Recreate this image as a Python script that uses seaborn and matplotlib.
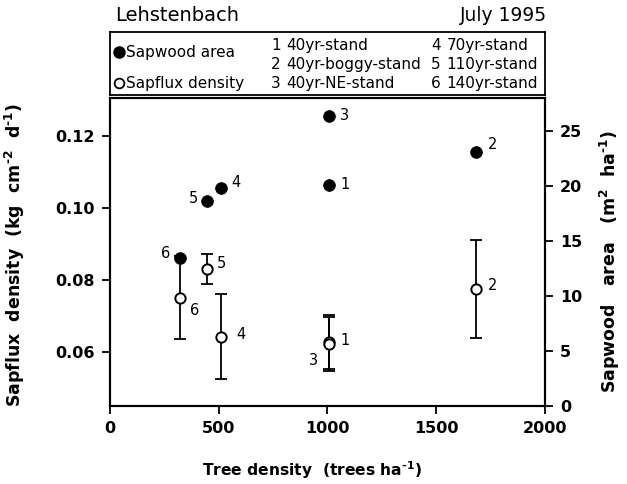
import numpy as np
import pandas as pd
import matplotlib
matplotlib.use("Agg")
import matplotlib.pyplot as plt
import seaborn as sns

# Stand data (Lehstenbach, July 1995)
stand_ids = ["1", "2", "3", "4", "5", "6"]
stand_names = ["40yr-stand", "40yr-boggy-stand", "40yr-NE-stand",
               "70yr-stand", "110yr-stand", "140yr-stand"]
tree_density = [1008, 1685, 1005, 509, 447, 323]
sapwood_area = [20.1, 23.1, 26.4, 19.8, 18.6, 13.5]
sapflux = [0.0628, 0.0776, 0.0622, 0.0642, 0.0831, 0.0751]
sapflux_err = [0.0076, 0.0136, 0.0074, 0.0118, 0.0042, 0.0115]

sns.set_theme(style="ticks")
plt.rcParams["font.family"] = ["DejaVu Sans"]
plt.rcParams["mathtext.fontset"] = "custom"
plt.rcParams["mathtext.rm"] = "DejaVu Sans:bold"
plt.rcParams["mathtext.bf"] = "DejaVu Sans:bold"
for key in ["text.color", "axes.labelcolor", "xtick.color", "ytick.color", "axes.edgecolor"]:
    plt.rcParams[key] = "black"

df = pd.DataFrame({"stand": stand_ids, "density": tree_density,
                   "sapwood": sapwood_area, "sapflux": sapflux, "err": sapflux_err})

fig = plt.figure(figsize=(6.27, 4.84), dpi=100)
ax = fig.add_axes([0.1754, 0.161, 0.6936, 0.6365])
ax2 = ax.twinx()

# Sapflux density (open circles with error bars), left axis
ax.errorbar(df["density"], df["sapflux"], yerr=df["err"], fmt="none",
            ecolor="black", elinewidth=1.3, capsize=4, capthick=1.3, zorder=2)
sns.scatterplot(data=df, x="density", y="sapflux", ax=ax, marker="o", s=55,
                facecolor="white", edgecolor="black", linewidth=1.4, zorder=3)

# Sapwood area (filled circles), right axis
sns.scatterplot(data=df, x="density", y="sapwood", ax=ax2, marker="o", s=70,
                color="black", edgecolor="black", zorder=4)

ax.set_xlim(0, 2000)
ax.set_ylim(0.045, 0.1305)
ax2.set_ylim(0, 28)
ax.set_xticks([0, 500, 1000, 1500, 2000])
ax.set_yticks([0.06, 0.08, 0.10, 0.12])
ax.set_yticklabels(["0.06", "0.08", "0.10", "0.12"])
ax2.set_yticks([0, 5, 10, 15, 20, 25])

for a in (ax, ax2):
    for s in a.spines.values():
        s.set_linewidth(1.5)
        s.set_visible(True)
    a.tick_params(width=1.3, length=6, labelsize=11.5, pad=5)
    for lab in a.get_xticklabels() + a.get_yticklabels():
        lab.set_fontweight("bold")

ax.set_xlabel(r"Tree density  (trees ha$^{\text{-1}}$)", fontsize=11.2, fontweight="bold")
ax.set_ylabel(r"Sapflux  density  (kg  cm$^{\text{-2}}$  d$^{\text{-1}}$)", fontsize=12.5,
              fontweight="bold")
ax2.set_ylabel(r"Sapwood   area   (m$^{2}$  ha$^{\text{-1}}$)", fontsize=12.5,
               fontweight="bold")
ax.xaxis.set_label_coords(0.465, -0.172)
ax.yaxis.set_label_coords(-0.19, 0.49)
ax2.yaxis.set_label_coords(1.122, 0.47)

# point labels
filled_off = {"1": (8, 0), "2": (8, 5), "3": (8, 0), "4": (8, 4), "5": (-13, 2), "6": (-14, 3)}
open_off = {"1": (8, 1), "2": (8, 2), "3": (-14, -12), "4": (11, 2), "5": (7, 4), "6": (7, -9)}
for sid, x, yw, yf in zip(stand_ids, tree_density, sapwood_area, sapflux):
    ax2.annotate(sid, (x, yw), xytext=filled_off[sid], textcoords="offset points",
                 fontsize=10.5, va="center")
    ax.annotate(sid, (x, yf), xytext=open_off[sid], textcoords="offset points",
                fontsize=10.5, va="center")

# header
fig.text(0.183, 0.968, "Lehstenbach", fontsize=14, va="center", ha="left")
fig.text(0.872, 0.968, "July 1995", fontsize=13.5, va="center", ha="right")

# legend box
lax = fig.add_axes([0.1754, 0.803, 0.6936, 0.131])
lax.set_xlim(0, 1)
lax.set_ylim(0, 1)
lax.set_xticks([])
lax.set_yticks([])
for s in lax.spines.values():
    s.set_linewidth(1.3)
    s.set_color("black")
lax.plot([0.02], [0.68], "o", color="black", ms=8)
lax.plot([0.02], [0.19], "o", mfc="white", mec="black", ms=7, mew=1.3)
lax.text(0.036, 0.68, "Sapwood area", fontsize=11, va="center")
lax.text(0.036, 0.19, "Sapflux density", fontsize=11, va="center")
row_y = [0.78, 0.49, 0.19]
for i, (sid, name) in enumerate(zip(stand_ids, stand_names)):
    col_x = 0.37 if i < 3 else 0.738
    lax.text(col_x, row_y[i % 3], sid, fontsize=11, va="center")
    lax.text(col_x + 0.036, row_y[i % 3], name, fontsize=11, va="center")

fig.savefig("out.png", dpi=100)
